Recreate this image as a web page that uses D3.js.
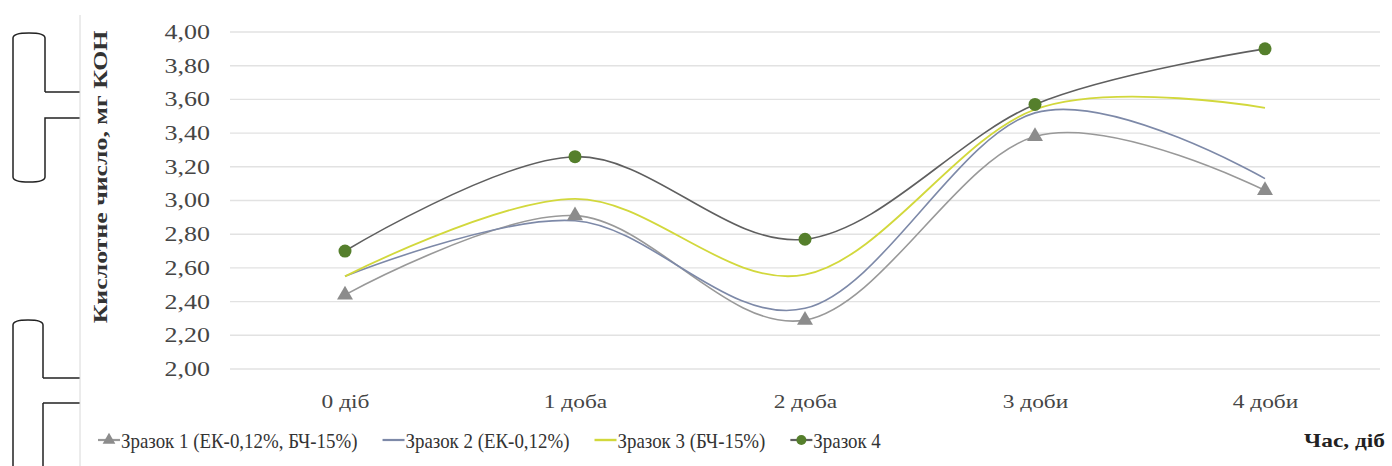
<!DOCTYPE html>
<html><head><meta charset="utf-8">
<script src="https://cdn.jsdelivr.net/npm/d3@7"></script>
<style>body{margin:0;background:#fff}svg{display:block}text{font-family:"Liberation Serif","Times New Roman",serif}</style>
</head><body><svg id="c" width="1392" height="466"></svg>
<script>
const categories = ["0 діб", "1 доба", "2 доба", "3 доби", "4 доби"];
const seriesNames = ["Зразок 1 (ЕК-0,12%, БЧ-15%)", "Зразок 2 (ЕК-0,12%)", "Зразок 3 (БЧ-15%)", "Зразок 4"];
const sample1 = [2.44, 2.91, 2.29, 3.38, 3.06];
const sample2 = [2.55, 2.88, 2.36, 3.52, 3.13];
const sample3 = [2.55, 3.01, 2.56, 3.54, 3.55];
const sample4 = [2.70, 3.26, 2.77, 3.57, 3.90];
const yTicks = [2.0, 2.2, 2.4, 2.6, 2.8, 3.0, 3.2, 3.4, 3.6, 3.8, 4.0];
const yTitle = "Кислотне число, мг КОН";
const xTitle = "Час, діб";

const svg = d3.select("#c");
const x = d3.scalePoint().domain(categories).range([230, 1380]).padding(0.5);
const y = d3.scaleLinear().domain([2, 4]).range([369, 32]);
const fmt = v => v.toFixed(2).replace(".", ",");
const SX = 1.3;

// decorative brackets at left (document artefacts)
const deco = svg.append("g").attr("fill", "none").attr("stroke", "#222").attr("stroke-width", 1.5);
deco.append("path").attr("d", "M45,92 V38 Q45,33 29,33 Q13,33 13,38 V177 Q13,182 29,182 Q45,182 45,177 V118 H80 M45,92 H80");
deco.append("path").attr("d", "M43,378 V325 Q43,320 28,320 Q13,320 13,325 V466 M43,403 V466 M43,378 H80 M43,403 H80");
svg.append("line").attr("x1", 80).attr("x2", 80).attr("y1", 15).attr("y2", 466).attr("stroke", "#d8d8d8").attr("stroke-width", 1);

// gridlines
svg.append("g").selectAll("line").data(yTicks).join("line")
  .attr("x1", 230).attr("x2", 1380).attr("y1", d => y(d)).attr("y2", d => y(d))
  .attr("stroke", "#e2e2e2").attr("stroke-width", 1.4);

// y axis
const yAxis = svg.append("g").attr("transform", "translate(210,0)")
  .call(d3.axisLeft(y).tickValues(yTicks).tickFormat(fmt).tickSize(0).tickPadding(0));
yAxis.select(".domain").remove();
yAxis.selectAll("text").attr("font-size", 20).attr("fill", "#454545").attr("font-family", "Liberation Serif")
  .attr("transform", `scale(${SX},1)`);

// x axis
const xAxis = svg.append("g").attr("transform", "translate(0,395)")
  .call(d3.axisBottom(x).tickSize(0).tickPadding(0));
xAxis.select(".domain").remove();
xAxis.selectAll("text").attr("font-size", 18).attr("fill", "#454545").attr("font-family", "Liberation Serif")
  .attr("transform", `scale(${SX},1)`);

// y title
svg.append("text").attr("transform", "translate(107,177) rotate(-90) scale(1.36,1)").attr("text-anchor", "middle")
  .attr("font-size", 19).attr("font-weight", "bold").attr("fill", "#333").text(yTitle);

const curve = d3.curveCardinal.tension(0);
const line = d3.line().x((d, i) => x(categories[i])).y(d => y(d)).curve(curve);
const series = [
  {vals: sample1, color: "#999999", w: 1.6, marker: "tri", mcolor: "#8c8c8c"},
  {vals: sample2, color: "#7d89a8", w: 1.6, marker: null},
  {vals: sample3, color: "#d2d83c", w: 1.8, marker: null},
  {vals: sample4, color: "#5f5f5f", w: 1.6, marker: "circle", mcolor: "#557f2c"}
];
series.forEach(s => {
  svg.append("path").attr("d", line(s.vals)).attr("fill", "none").attr("stroke", s.color).attr("stroke-width", s.w);
});
series.forEach(s => {
  if (s.marker === "tri") {
    svg.append("g").selectAll("path").data(s.vals).join("path")
      .attr("d", d3.symbol(d3.symbolTriangle, 110))
      .attr("transform", (d, i) => `translate(${x(categories[i])},${y(d)})`)
      .attr("fill", s.mcolor);
  } else if (s.marker === "circle") {
    svg.append("g").selectAll("circle").data(s.vals).join("circle")
      .attr("cx", (d, i) => x(categories[i])).attr("cy", d => y(d)).attr("r", 6.5)
      .attr("fill", s.mcolor);
  }
});

// legend (flow layout)
const LSX = 0.9;
let lx = 98;
series.forEach((s, i) => {
  const g = svg.append("g").attr("transform", `translate(${lx},440)`);
  g.append("line").attr("x1", 0).attr("x2", 22).attr("y1", 0).attr("y2", 0).attr("stroke", s.color).attr("stroke-width", s.w + 0.6);
  if (s.marker === "tri") g.append("path").attr("d", d3.symbol(d3.symbolTriangle, 70)).attr("transform", "translate(11,0)").attr("fill", s.mcolor);
  if (s.marker === "circle") g.append("circle").attr("cx", 11).attr("cy", 0).attr("r", 5).attr("fill", s.mcolor);
  const t = g.append("text").attr("transform", `translate(23,7.5) scale(${LSX},1)`).attr("font-size", 21).attr("fill", "#333").text(seriesNames[i]);
  lx += 23 + t.node().getComputedTextLength() * LSX + 25;
});
svg.append("text").attr("transform", `translate(1385,447) scale(${SX},1)`).attr("text-anchor", "end").attr("font-size", 18)
  .attr("font-weight", "bold").attr("fill", "#222").text(xTitle);
</script></body></html>
